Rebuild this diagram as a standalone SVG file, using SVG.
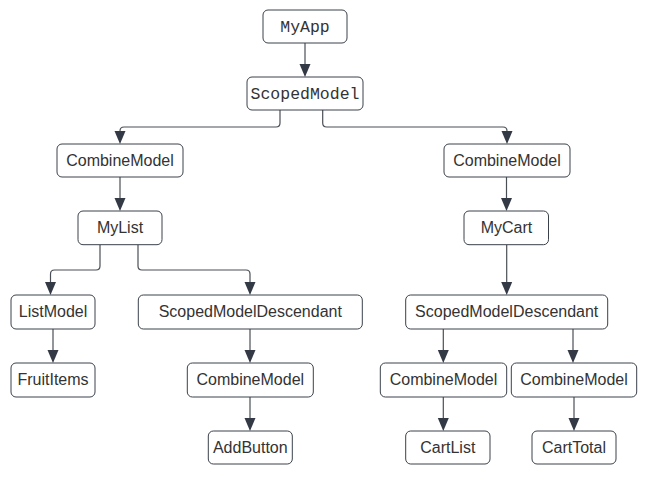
<svg xmlns="http://www.w3.org/2000/svg" width="654" height="485" viewBox="0 0 654 485">
<style>
.box{fill:#fff;stroke:#3a414a;stroke-width:1}
.t{font-family:"Liberation Sans",Arial,sans-serif;font-size:16px;fill:#333;text-anchor:middle}
.m{font-family:"Liberation Mono","Courier New",monospace;font-size:16.5px;fill:#333;text-anchor:middle}
.c{fill:none;stroke:#4a4f55;stroke-width:1.2}
</style>
<rect width="654" height="485" fill="#fff"/>
<g id="connectors">
<path class="c" d="M305,43 V66"/>
<path class="c" d="M280,110 V123 Q280,127 276,127 H124 Q120,127 120,131 V133"/>
<path class="c" d="M322.7,110 V123 Q322.7,127 326.7,127 H503 Q507,127 507,131 V133"/>
<path class="c" d="M120,177 V200"/>
<path class="c" d="M506.5,177 V200"/>
<path class="c" d="M100,244.7 V266 Q100,270 96,270 H54.5 Q50.5,270 50.5,274 V284"/>
<path class="c" d="M138,244.7 V266 Q138,270 142,270 H246 Q250,270 250,274 V284"/>
<path class="c" d="M53,329 V352"/>
<path class="c" d="M250,329 V352"/>
<path class="c" d="M250,397 V420"/>
<path class="c" d="M506.7,244.7 V284"/>
<path class="c" d="M443.3,329 V352"/>
<path class="c" d="M573,329 V352"/>
<path class="c" d="M443.3,397 V420"/>
<path class="c" d="M574,397 V420"/>
<g fill="#333a45">
<path d="M299.5,64 H310.5 L305,77 Z"/>
<path d="M114.5,131 H125.5 L120,144 Z"/>
<path d="M501.5,131 H512.5 L507,144 Z"/>
<path d="M114.5,198 H125.5 L120,211 Z"/>
<path d="M501,198 H512 L506.5,211 Z"/>
<path d="M45,282 H56 L50.5,295 Z"/>
<path d="M244.5,282 H255.5 L250,295 Z"/>
<path d="M47.5,350 H58.5 L53,363 Z"/>
<path d="M244.5,350 H255.5 L250,363 Z"/>
<path d="M244.5,418 H255.5 L250,431 Z"/>
<path d="M501.2,282 H512.2 L506.7,295 Z"/>
<path d="M437.8,350 H448.8 L443.3,363 Z"/>
<path d="M567.5,350 H578.5 L573,363 Z"/>
<path d="M437.8,418 H448.8 L443.3,431 Z"/>
<path d="M568.5,418 H579.5 L574,431 Z"/>
</g>
</g>
<g id="myapp"><rect class="box" x="263" y="10" width="84" height="33" rx="5"/><text class="m" x="305" y="32">MyApp</text></g>
<g id="scopedmodel"><rect class="box" x="247" y="77" width="116" height="33" rx="5"/><text class="m" x="305" y="99">ScopedModel</text></g>
<g id="combine-left"><rect class="box" x="57" y="144" width="126" height="33" rx="5"/><text class="t" x="120" y="166">CombineModel</text></g>
<g id="combine-right"><rect class="box" x="444" y="144" width="126" height="33" rx="5"/><text class="t" x="507" y="166">CombineModel</text></g>
<g id="mylist"><rect class="box" x="78" y="211" width="84" height="33.7" rx="5"/><text class="t" x="120" y="233">MyList</text></g>
<g id="mycart"><rect class="box" x="464" y="211" width="84.5" height="33.7" rx="5"/><text class="t" x="506.5" y="233">MyCart</text></g>
<g id="listmodel"><rect class="box" x="11" y="295" width="84" height="34" rx="5"/><text class="t" x="53" y="317">ListModel</text></g>
<g id="smd-left"><rect class="box" x="138.3" y="295" width="224" height="34" rx="5"/><text class="t" x="250.3" y="317">ScopedModelDescendant</text></g>
<g id="smd-right"><rect class="box" x="405.7" y="295" width="202" height="34" rx="5"/><text class="t" x="506.7" y="317">ScopedModelDescendant</text></g>
<g id="fruititems"><rect class="box" x="11" y="363" width="84" height="34" rx="5"/><text class="t" x="53" y="385">FruitItems</text></g>
<g id="combine-add"><rect class="box" x="187.3" y="363" width="126" height="34" rx="5"/><text class="t" x="250.3" y="385">CombineModel</text></g>
<g id="combine-cartlist"><rect class="box" x="380.3" y="363" width="126.4" height="34" rx="5"/><text class="t" x="443.5" y="385">CombineModel</text></g>
<g id="combine-carttotal"><rect class="box" x="511.3" y="363" width="125.4" height="34" rx="5"/><text class="t" x="574" y="385">CombineModel</text></g>
<g id="addbutton"><rect class="box" x="208.3" y="431" width="84" height="33" rx="5"/><text class="t" x="250.3" y="453">AddButton</text></g>
<g id="cartlist"><rect class="box" x="405.7" y="431" width="84.3" height="33" rx="5"/><text class="t" x="447.8" y="453">CartList</text></g>
<g id="carttotal"><rect class="box" x="532" y="431" width="84" height="33" rx="5"/><text class="t" x="574" y="453">CartTotal</text></g>
</svg>
